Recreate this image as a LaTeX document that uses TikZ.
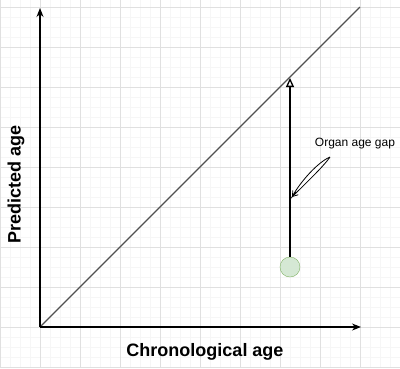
\documentclass[tikz,border=0pt]{standalone}
\usepackage{fontspec}
\setmainfont{Liberation Sans}
\usetikzlibrary{arrows.meta}
\definecolor{gridminor}{RGB}{246,246,246}
\definecolor{gridmajor}{RGB}{224,224,224}
\definecolor{samplefill}{RGB}{213,232,212}
\definecolor{sampleline}{RGB}{130,179,102}
\tikzstyle{axis} = [draw=black, line width=1.3pt, -{Stealth[length=9pt,width=7pt]}]
\tikzstyle{ident} = [draw={rgb,255:red,80;green,80;blue,80}, line width=1.1pt]
\tikzstyle{gap} = [draw=black, line width=1.3pt, -{Triangle[open,length=9pt,width=8pt]}]
\tikzstyle{sample} = [draw=sampleline, fill=samplefill, circle, minimum size=20pt, inner sep=0pt]
\tikzstyle{axislabel} = [font={\fontsize{18}{20}\selectfont\bfseries}]
\tikzstyle{note} = [font={\fontsize{12}{14}\selectfont}]

\begin{document}
\begin{tikzpicture}[x=1pt,y=-1pt]
        \useasboundingbox[fill=white] (0,0) rectangle (400,368);
        % grid
        \foreach \x in {0,10,...,400} \draw[gridminor] (\x,0) -- (\x,368);
        \foreach \y in {7,17,...,367} \draw[gridminor] (0,\y) -- (400,\y);
        \foreach \x in {0,40,...,400} \draw[gridmajor] (\x,0) -- (\x,368);
        \foreach \y in {7,47,...,367} \draw[gridmajor] (0,\y) -- (400,\y);
        \coordinate (O) at (40,327);
        \coordinate (ytop) at (40,8);
        \coordinate (xend) at (361,327);
        \coordinate (dend) at (360,7);
        \coordinate (hit) at (290,78);
        \coordinate (tail) at (330,157);
        \coordinate (head) at (292,197);
        \draw[ident](O)--(dend);
        \draw[axis](O)--(ytop);
        \draw[axis](O)--(xend);
        \node[sample](s) at (290,267){};
        \draw[gap](s.north)--(hit);
        \node[note](gaplabel) at (355,144){Organ age gap};
        \draw[fill=white,line width=0.8pt](tail)..controls(318,162)and(300,182)..(head)..controls(305,184)and(324,166)..(tail);
        \draw[line width=0.8pt,-{Straight Barb[length=5pt,width=7pt]}](296,192)--(head);
        \node[axislabel](xlabel) at (205,352){Chronological age};
        \node[axislabel,rotate=90](ylabel) at (16,184){Predicted age};
      \end{tikzpicture}
\end{document}
